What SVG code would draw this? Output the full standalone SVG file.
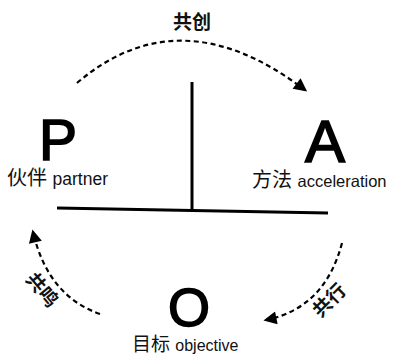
<svg xmlns="http://www.w3.org/2000/svg" width="400" height="358" viewBox="0 0 400 358">
<style>
.big{font-family:"Liberation Sans",Arial,sans-serif;fill:#000;stroke:#000;stroke-width:1.6}
.lab{font-family:"Liberation Sans","Noto Sans CJK SC",sans-serif;fill:#111}
.arc{fill:none;stroke:#000;stroke-width:2.2;stroke-dasharray:5 3.5}
.cn{font-family:"Noto Sans CJK SC",sans-serif;font-weight:bold;fill:#111;font-size:19px}
</style>
<defs>
<marker id="ah" viewBox="0 0 10 10" refX="8" refY="5" markerWidth="7" markerHeight="6" orient="auto" markerUnits="strokeWidth">
<path d="M0,0 L10,5 L0,10 z" fill="#000"/>
</marker>
</defs>
<rect width="400" height="358" fill="#fff"/>
<g id="axes" stroke="#000" stroke-width="3" fill="none">
<line x1="192" y1="82" x2="192" y2="210"/>
<line x1="57" y1="208" x2="328" y2="213"/>
</g>
<g id="connectors">
<path class="arc" d="M77,83 Q180,-5 305,90" marker-end="url(#ah)"/>
<path class="arc" d="M100,314 Q48,296 33,232" marker-end="url(#ah)"/>
<path class="arc" d="M342,243 Q325,308 266,320" marker-end="url(#ah)"/>
<text class="cn" x="192" y="29" text-anchor="middle">共创</text>
<text class="cn" text-anchor="middle" transform="translate(37,294) rotate(50)">共鸣</text>
<text class="cn" text-anchor="middle" transform="translate(334,305) rotate(-45)">共行</text>
</g>
<g id="P">
<text class="big" x="58" y="160" font-size="57" text-anchor="middle">P</text>
<text class="lab" x="7" y="185" font-size="20">伙伴 <tspan font-size="17.5">partner</tspan></text>
</g>
<g id="A">
<text class="big" x="325" y="162" font-size="60" text-anchor="middle">A</text>
<text class="lab" x="252" y="187" font-size="20">方法 <tspan font-size="16.5">acceleration</tspan></text>
</g>
<g id="O">
<text class="big" x="189" y="326" font-size="54" text-anchor="middle">O</text>
<text class="lab" x="132" y="351" font-size="19">目标 <tspan font-size="16">objective</tspan></text>
</g>
</svg>
